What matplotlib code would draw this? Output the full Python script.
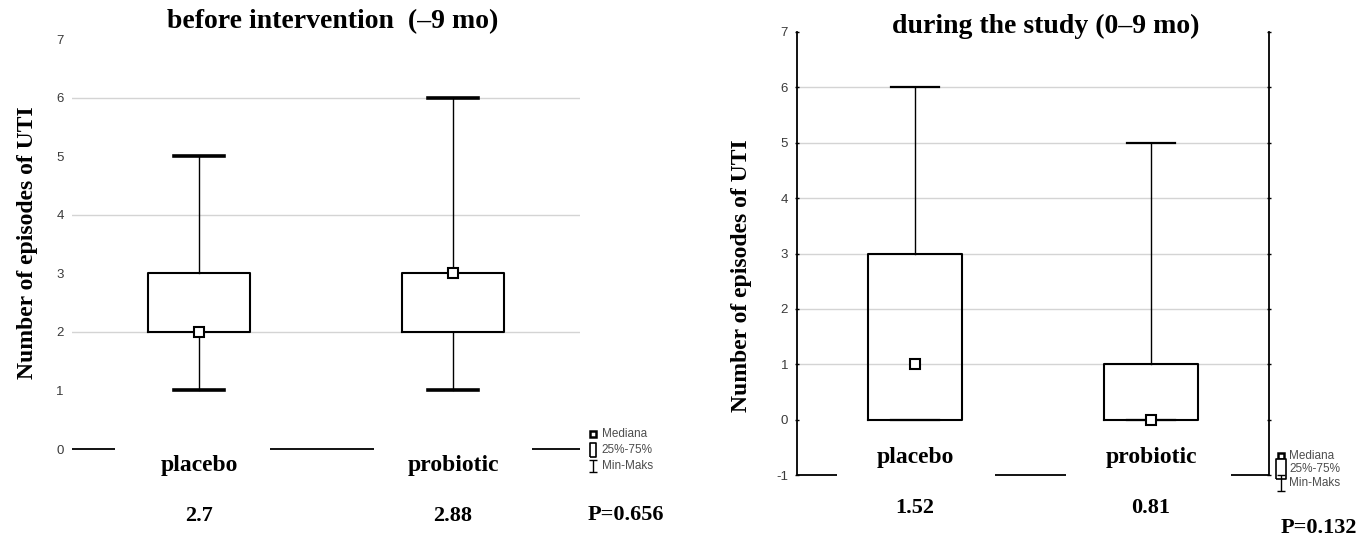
import matplotlib
matplotlib.use('Agg')
import matplotlib.pyplot as plt

plt.rcParams['axes.unicode_minus'] = False

# ---- data ------------------------------------------------------------------
groups = ['placebo', 'probiotic']

# before intervention (-9 mo)
pre_min = [1, 1]
pre_q1 = [2, 2]
pre_med = [2, 3]
pre_q3 = [3, 3]
pre_max = [5, 6]
pre_means = ['2.7', '2.88']
pre_p = 'P=0.656'

# during the study (0-9 mo)
dur_min = [0, 0]
dur_q1 = [0, 0]
dur_med = [1, 0]
dur_q3 = [3, 1]
dur_max = [6, 5]
dur_means = ['1.52', '0.81']
dur_p = 'P=0.132'

legend_labels = ['Mediana', '25%-75%', 'Min-Maks']

# ---- layout helpers ----------------------------------------------------------
W, H = 1364, 542
SERIF = 'Liberation Serif'
SANS = 'Liberation Sans'
TICK_COLOR = '#3a3a3a'
GRID_COLOR = '#d4d4d4'


def fig_rect(x0, y_top, x1, y_bottom):
    return [x0 / W, 1 - y_bottom / H, (x1 - x0) / W, (y_bottom - y_top) / H]


fig = plt.figure(figsize=(W / 100, H / 100), dpi=100)
fig.patch.set_facecolor('white')


def draw_panel(ax, mins, q1s, meds, q3s, maxs, ylim, cap_lw, grid_vals):
    pos = list(range(1, len(groups) + 1))
    stats = []
    for i in range(len(groups)):
        stats.append({'med': meds[i], 'q1': q1s[i], 'q3': q3s[i],
                      'whislo': mins[i], 'whishi': maxs[i], 'fliers': []})
    ax.bxp(stats, positions=pos, widths=0.4, capwidths=0.2, showfliers=False,
           boxprops=dict(color='black', linewidth=1.5),
           whiskerprops=dict(color='black', linewidth=1.0),
           capprops=dict(color='black', linewidth=cap_lw),
           medianprops=dict(linewidth=0))
    ax.plot(pos, meds, linestyle='none', marker='s', markersize=7,
            markerfacecolor='white', markeredgecolor='black',
            markeredgewidth=1.5, zorder=5)
    for g in grid_vals:
        ax.axhline(g, color=GRID_COLOR, linewidth=1.0, zorder=0)
    ax.set_xlim(0.5, 2.5)
    ax.set_ylim(*ylim)
    ax.set_xticks([])


def bottom_line(ax, y, gaps):
    pos = list(range(1, len(groups) + 1))
    edges = [ax.get_xlim()[0]]
    for p, (gl, gr) in zip(pos, gaps):
        edges += [p - gl, p + gr]
    edges.append(ax.get_xlim()[1])
    for a, b in zip(edges[0::2], edges[1::2]):
        ax.plot([a, b], [y, y], color='black', linewidth=1.3, clip_on=False,
                solid_capstyle='butt')


def labels_row(ax, cat_y, mean_y, means, p_text, p_xy):
    for i, name in enumerate(groups):
        ax.text(i + 1, cat_y, name, ha='center', va='center', fontsize=17,
                fontweight='bold', family=SERIF, clip_on=False)
        ax.text(i + 1, mean_y, means[i], ha='center', va='center', fontsize=16,
                fontweight='bold', family=SERIF, clip_on=False)
    ax.text(p_xy[0], p_xy[1], p_text, ha='center', va='center', fontsize=16,
            fontweight='bold', family=SERIF, clip_on=False)


def key(ax, x, ys, box_h, bar_h):
    ax.plot([x], [ys[0]], linestyle='none', marker='s', markersize=5,
            markerfacecolor='white', markeredgecolor='black',
            markeredgewidth=1.8, clip_on=False)
    ax.plot([x], [ys[1]], linestyle='none', clip_on=False,
            marker=[(-0.5, -1), (0.5, -1), (0.5, 1), (-0.5, 1), (-0.5, -1)],
            markersize=box_h, markerfacecolor='white',
            markeredgecolor='black', markeredgewidth=1.2)
    ax.errorbar([x], [ys[2]], yerr=[bar_h], color='black', linewidth=1.0,
                capsize=3, capthick=1.0, clip_on=False)
    for y, lab in zip(ys, legend_labels):
        ax.text(x + 0.035, y, lab, ha='left', va='center', fontsize=8.5,
                family=SANS, color='#4d4d4d', clip_on=False)


# ---- left panel --------------------------------------------------------------
ax1 = fig.add_axes(fig_rect(72, 39, 580, 449))
draw_panel(ax1, pre_min, pre_q1, pre_med, pre_q3, pre_max, (0, 7), 2.6, [2, 4, 6])
for s in ax1.spines.values():
    s.set_visible(False)
ax1.set_yticks(range(0, 8))
ax1.set_yticks([2, 4, 6], minor=True)
ax1.tick_params(axis='y', which='major', length=0, pad=6, labelsize=9.5,
                labelcolor=TICK_COLOR, labelfontfamily=SANS)
ax1.tick_params(axis='y', which='minor', length=3, width=1.2, left=True,
                right=True, labelleft=False)
bottom_line(ax1, 0, [(0.33, 0.28), (0.31, 0.31)])
labels_row(ax1, -0.29, -1.15, pre_means, pre_p, (2.68, -1.13))
key(ax1, 2.55, [0.26, -0.02, -0.29], 10, 0.095)

# ---- right panel -------------------------------------------------------------
ax2 = fig.add_axes(fig_rect(797, 32, 1269, 475))
draw_panel(ax2, dur_min, dur_q1, dur_med, dur_q3, dur_max, (-1, 7), 1.6,
           [1, 2, 3, 4, 5, 6])
ax2.spines['top'].set_visible(False)
ax2.spines['bottom'].set_visible(False)
ax2.spines['left'].set_linewidth(1.3)
ax2.spines['right'].set_linewidth(1.3)
ax2.set_yticks(range(-1, 8))
ax2.tick_params(axis='y', which='major', length=3, width=1.0, left=True,
                right=True, direction='inout', pad=5, labelsize=9.5,
                labelcolor=TICK_COLOR, labelfontfamily=SANS)
bottom_line(ax2, -1, [(0.33, 0.34), (0.36, 0.34)])
labels_row(ax2, -0.68, -1.6, dur_means, dur_p, (2.71, -1.96))
key(ax2, 2.55, [-0.66, -0.89, -1.14], 14, 0.145)

# ---- titles and axis labels --------------------------------------------------
fig.text(333 / W, 1 - 22 / H, 'before intervention  (\u20139 mo)', ha='center',
         va='center', fontsize=20, fontweight='bold', family=SERIF)
fig.text(1046 / W, 1 - 26 / H, 'during the study (0\u20139 mo)', ha='center',
         va='center', fontsize=20, fontweight='bold', family=SERIF)
fig.text(28 / W, 1 - 243 / H, 'Number of episodes of UTI', rotation=90,
         ha='center', va='center', fontsize=17, fontweight='bold', family=SERIF)
fig.text(742 / W, 1 - 276 / H, 'Number of episodes of UTI', rotation=90,
         ha='center', va='center', fontsize=17, fontweight='bold', family=SERIF)

fig.savefig('out.png', dpi=100)
